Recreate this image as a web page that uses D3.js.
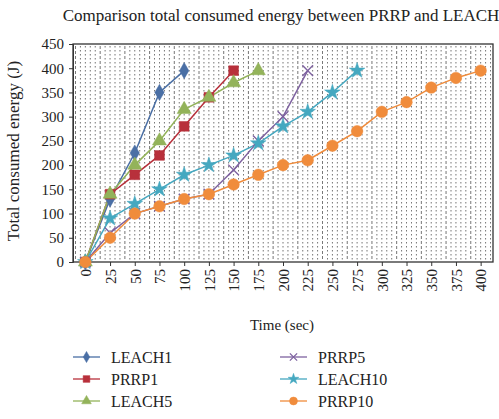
<!DOCTYPE html>
<html lang="en">
  <head>
    <meta charset="UTF-8">
    <title>Comparison total consumed energy</title>
    <style>
      body { margin: 0; background: #fff; }
      svg text { font-family: "Liberation Serif", "DejaVu Serif", serif !important; fill: #222; }
    </style>
  </head>
  <body>
    <div id="chart"></div>
    <script src="https://d3js.org/d3.v7.min.js"></script>
    <script>
      // tick labels / categories
      const times = [0, 25, 50, 75, 100, 125, 150, 175, 200, 225, 250, 275, 300, 325, 350, 375, 400];
      const yTicks = [0, 50, 100, 150, 200, 250, 300, 350, 400, 450];

      // series values
      const leach1 = [0, 130, 225, 350, 395];
      const prrp1 = [0, 140, 180, 220, 280, 340, 395];
      const leach5 = [0, 140, 200, 250, 315, 340, 370, 395];
      const prrp5 = [0, 60, 100, 115, 130, 140, 190, 250, 300, 395];
      const leach10 = [0, 90, 120, 150, 180, 200, 220, 245, 280, 310, 350, 395];
      const prrp10 = [0, 50, 100, 115, 130, 140, 160, 180, 200, 210, 240, 270, 310, 330, 360, 380, 395];

      const seriesNames = ["LEACH1", "PRRP1", "LEACH5", "PRRP5", "LEACH10", "PRRP10"];
      const seriesData = [leach1, prrp1, leach5, prrp5, leach10, prrp10];
      const colors = ["#4a6fa5", "#b8303b", "#93b35a", "#7e62a0", "#45a8c0", "#f08c3c"];
      const symbols = [d3.symbolDiamond, d3.symbolSquare, d3.symbolTriangle, d3.symbolX, d3.symbolStar, d3.symbolCircle];
      const symSize = [40, 50, 45, 40, 40, 55];

      const W = 499, H = 419;
      const margin = { top: 44, right: 6, bottom: 157, left: 73 };
      const width = W - margin.left - margin.right;
      const height = H - margin.top - margin.bottom;

      const svg = d3.select("#chart").append("svg")
        .attr("width", W).attr("height", H);

      const g = svg.append("g")
        .attr("transform", "translate(" + margin.left + "," + margin.top + ")");

      const x = d3.scalePoint().domain(times).range([0, width]).padding(0.5);
      const y = d3.scaleLinear().domain([0, 450]).range([height, 0]);

      // dense dotted vertical grid, every 5 sec across the whole frame
      const step = x.step() / 25;
      const gridX = d3.range(-10, 413, 5);
      g.append("g").selectAll("line")
        .data(gridX)
        .enter().append("line")
        .attr("x1", d => x(0) + d * step)
        .attr("x2", d => x(0) + d * step)
        .attr("y1", 2).attr("y2", height - 1)
        .attr("stroke", "#333")
        .attr("stroke-width", 0.9)
        .attr("stroke-dasharray", (d, i) => i % 5 === 0 ? "3,2" : "1.5,2.5")
        .attr("opacity", 0.75);

      // frame
      g.append("rect")
        .attr("width", width).attr("height", height)
        .attr("fill", "none").attr("stroke", "#333").attr("stroke-width", 1.3);

      // axes
      const yAxis = g.append("g")
        .call(d3.axisLeft(y).tickValues(yTicks).tickSize(4).tickPadding(5))
        .attr("font-family", null);
      yAxis.select(".domain").attr("stroke", "#333");
      yAxis.selectAll("line").attr("stroke", "#333");
      yAxis.selectAll("text").style("font-size", "15px").attr("fill", "#222");

      const xAxis = g.append("g")
        .attr("transform", "translate(0," + height + ")")
        .call(d3.axisBottom(x).tickSize(4).tickPadding(4))
        .attr("font-family", null);
      xAxis.select(".domain").remove();
      xAxis.selectAll("line").attr("stroke", "#333");
      xAxis.selectAll("text")
        .style("font-size", "15px")
        .attr("fill", "#222")
        .attr("transform", "rotate(-90)")
        .attr("text-anchor", "end")
        .attr("x", -7).attr("y", 0).attr("dy", "0.35em");

      // lines + markers
      const line = d3.line()
        .x((d, i) => x(times[i]))
        .y(d => y(d));

      seriesData.forEach((vals, k) => {
        g.append("path")
          .datum(vals)
          .attr("fill", "none")
          .attr("stroke", colors[k])
          .attr("stroke-width", 1.5)
          .attr("d", line);
      });
      seriesData.forEach((vals, k) => {
        g.append("g").selectAll("path")
          .data(vals)
          .enter().append("path")
          .attr("transform", (d, i) => "translate(" + x(times[i]) + "," + y(d) + ")")
          .attr("d", d3.symbol().type(symbols[k]).size(symSize[k] * 1.9))
          .attr("fill", k === 3 ? "none" : colors[k])
          .attr("stroke", colors[k])
          .attr("stroke-width", k === 3 ? 1.4 : 0.5);
      });

      // title
      svg.append("text")
        .attr("x", 281).attr("y", 21)
        .attr("text-anchor", "middle")
        .style("font-size", "17px")
        .text("Comparison total consumed energy between PRRP and LEACH");

      // y label
      svg.append("text")
        .attr("transform", "translate(19," + (margin.top + height / 2 - 2) + ") rotate(-90)")
        .attr("text-anchor", "middle")
        .style("font-size", "17px")
        .text("Total consumed energy (J)");

      // x label
      svg.append("text")
        .attr("x", 282).attr("y", 330)
        .attr("text-anchor", "middle")
        .style("font-size", "15px")
        .text("Time (sec)");

      // legend
      const legend = svg.append("g");
      seriesNames.forEach((name, k) => {
        const col = Math.floor(k / 3), row = k % 3;
        const lx = col === 0 ? 73 : 280, ly = 357 + row * 22;
        const item = legend.append("g").attr("transform", "translate(" + lx + "," + ly + ")");
        item.append("line")
          .attr("x1", 0).attr("x2", 27).attr("y1", 0).attr("y2", 0)
          .attr("stroke", colors[k]).attr("stroke-width", 1.3);
        item.append("path")
          .attr("transform", "translate(13.5,0)")
          .attr("d", d3.symbol().type(symbols[k]).size(symSize[k] * 0.9))
          .attr("fill", k === 3 ? "none" : colors[k])
          .attr("stroke", colors[k])
          .attr("stroke-width", k === 3 ? 1.3 : 0.5);
        item.append("text")
          .attr("x", 38).attr("y", 0).attr("dy", "0.35em")
          .style("font-size", "16px")
          .text(name);
      });
    </script>
  </body>
</html>
